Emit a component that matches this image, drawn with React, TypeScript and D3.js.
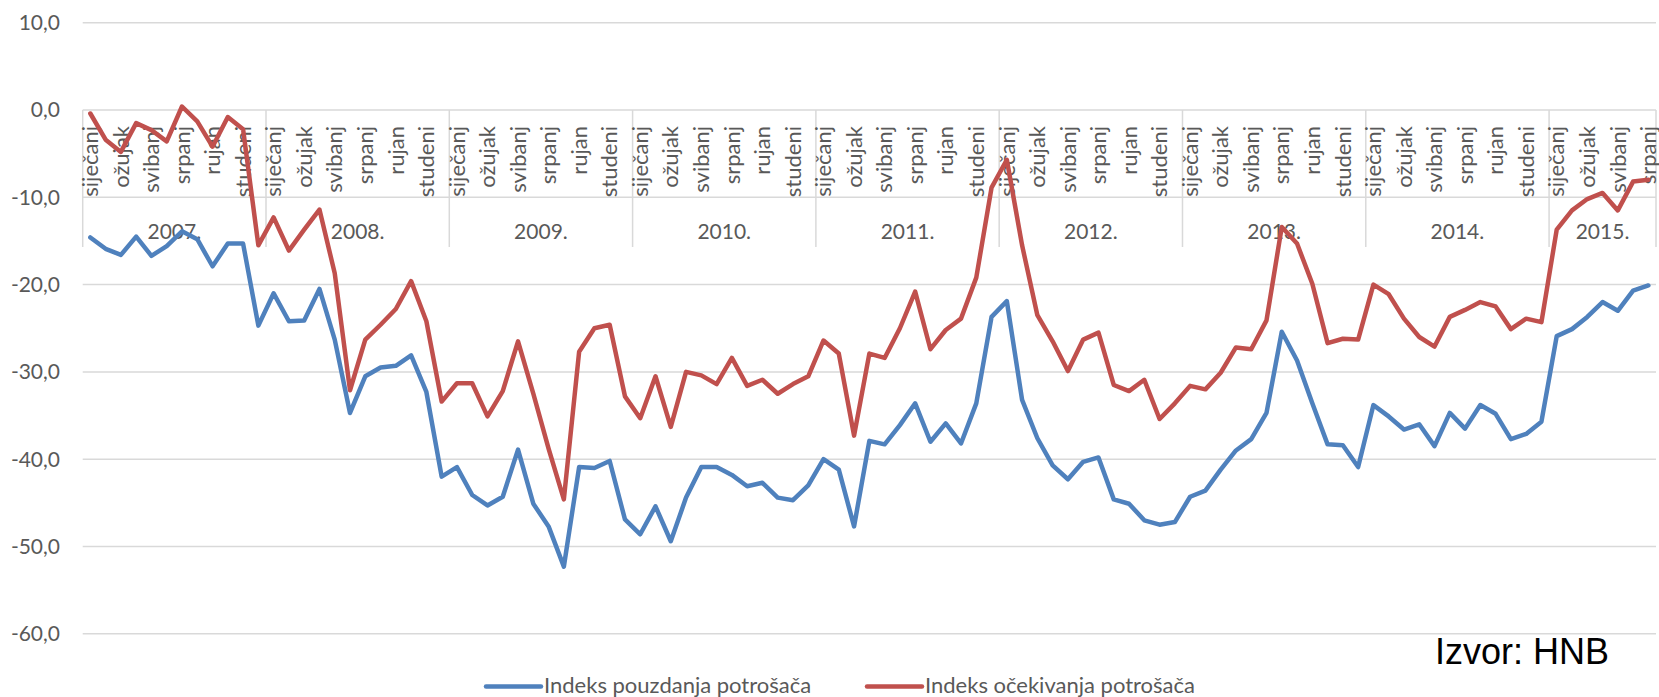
import React from "react";
import * as d3 from "d3";

// ---- data ----
const YEARS = ["2007.", "2008.", "2009.", "2010.", "2011.", "2012.", "2013.", "2014.", "2015."];
const MONTHS = [
  "siječanj", "veljača", "ožujak", "travanj", "svibanj", "lipanj",
  "srpanj", "kolovoz", "rujan", "listopad", "studeni", "prosinac",
];
const Y_TICKS = [10, 0, -10, -20, -30, -40, -50, -60];

const SERIES_NAMES = ["Indeks pouzdanja potrošača", "Indeks očekivanja potrošača"];

// Indeks pouzdanja potrošača (monthly, Jan 2007 – Jul 2015)
const CONFIDENCE = [
  -14.6, -15.9, -16.6, -14.5, -16.7, -15.6, -13.9, -14.8, -17.9, -15.3, -15.3, -24.7,
  -21.0, -24.2, -24.1, -20.5, -26.3, -34.7, -30.5, -29.5, -29.3, -28.1, -32.3, -42.0,
  -40.9, -44.1, -45.3, -44.3, -38.9, -45.1, -47.7, -52.3, -40.9, -41.0, -40.2, -46.9,
  -48.6, -45.4, -49.4, -44.4, -40.9, -40.9, -41.8, -43.1, -42.7, -44.4, -44.7, -43.0,
  -40.0, -41.2, -47.7, -37.9, -38.3, -36.1, -33.6, -38.0, -35.9, -38.2, -33.6, -23.7,
  -21.9, -33.2, -37.6, -40.7, -42.3, -40.3, -39.8, -44.6, -45.1, -47.0, -47.5, -47.2,
  -44.3, -43.6, -41.2, -39.0, -37.7, -34.7, -25.4, -28.7, -33.6, -38.3, -38.4, -40.9,
  -33.8, -35.1, -36.6, -36.0, -38.5, -34.7, -36.5, -33.8, -34.8, -37.7, -37.1, -35.7,
  -25.9, -25.1, -23.7, -22.0, -23.0, -20.7, -20.1,
];

// Indeks očekivanja potrošača
const EXPECTATIONS = [
  -0.4, -3.4, -4.8, -1.5, -2.3, -3.6, 0.4, -1.3, -4.2, -0.8, -2.2, -15.5,
  -12.3, -16.1, -13.7, -11.4, -18.7, -32.1, -26.3, -24.6, -22.8, -19.6, -24.2, -33.4,
  -31.3, -31.3, -35.1, -32.2, -26.5, -32.5, -38.8, -44.6, -27.7, -25.0, -24.6, -32.8,
  -35.3, -30.5, -36.3, -30.0, -30.4, -31.4, -28.4, -31.6, -30.9, -32.5, -31.4, -30.5,
  -26.4, -27.9, -37.3, -27.9, -28.4, -25.0, -20.8, -27.4, -25.2, -23.9, -19.2, -8.9,
  -5.7, -15.5, -23.5, -26.5, -29.9, -26.3, -25.5, -31.5, -32.2, -30.9, -35.4, -33.6,
  -31.6, -32.0, -30.1, -27.2, -27.4, -24.1, -13.4, -15.3, -19.9, -26.7, -26.2, -26.3,
  -20.0, -21.1, -23.9, -26.0, -27.1, -23.7, -22.9, -22.0, -22.5, -25.1, -23.9, -24.3,
  -13.7, -11.5, -10.2, -9.5, -11.5, -8.2, -8.0,
];

const COLORS = ["#4F81BD", "#C0504D"];
const SOURCE = "Izvor: HNB";

// ---- layout ----
const W = 1659;
const H = 697;
const PLOT_LEFT = 82.7;
const PLOT_RIGHT = 1656;
const TEXT = "#595959";
const GRID = "#D9D9D9";
const FONT = "Lato, 'Open Sans', sans-serif";

const fmt = d3
  .formatLocale({ decimal: ",", thousands: ".", grouping: [3], currency: ["", ""], minus: "-" })
  .format(".1f");

export default function App() {
  const n = CONFIDENCE.length;
  const idx = d3.range(n);
  const x = d3.scaleBand<number>().domain(idx).range([PLOT_LEFT, PLOT_RIGHT]).padding(0);
  const bw = x.bandwidth();
  const cx = (i: number) => (x(i) as number) + bw / 2;
  const y = d3.scaleLinear().domain([-60, 10]).range([633.8, 22.7]);

  const line = d3
    .line<number>()
    .x((_, i) => cx(i))
    .y((d) => y(d));

  const y0 = y(0);
  const sepBottom = 247;

  const yearStarts = YEARS.map((_, k) => k * 12).filter((s) => s < n);
  const sepXs = [...yearStarts.map((s) => x(s) as number), PLOT_RIGHT];

  return (
    <svg
      width={W}
      height={H}
      style={{ position: "absolute", left: 0, top: 0, background: "#fff" }}
      fontFamily={FONT}
    >
      <rect x={0} y={0} width={W} height={H} fill="#fff" />
      {/* gridlines */}
      {Y_TICKS.map((t) => (
        <line key={t} x1={PLOT_LEFT} x2={PLOT_RIGHT} y1={y(t)} y2={y(t)} stroke={GRID} strokeWidth={1.5} />
      ))}
      {/* y tick labels */}
      {Y_TICKS.map((t) => (
        <text
          key={"l" + t}
          x={60}
          y={y(t)}
          dy="0.35em"
          textAnchor="end"
          fontSize={21}
          fill={TEXT}
        >
          {fmt(t)}
        </text>
      ))}
      {/* category axis separators */}
      {sepXs.map((sx, k) => (
        <line key={"s" + k} x1={sx} x2={sx} y1={y0} y2={sepBottom} stroke={GRID} strokeWidth={1.5} />
      ))}
      {/* month labels */}
      {idx
        .filter((i) => i % 2 === 0)
        .map((i) => (
          <text
            key={"m" + i}
            transform={`translate(${cx(i)},126) rotate(-90)`}
            dy="0.35em"
            textAnchor="end"
            fontSize={22}
            fill={TEXT}
          >
            {MONTHS[i % 12]}
          </text>
        ))}
      {/* year labels */}
      {yearStarts.map((s, k) => {
        const a = x(s) as number;
        const b = k + 1 < yearStarts.length ? (x(yearStarts[k + 1]) as number) : PLOT_RIGHT;
        return (
          <text key={"y" + k} x={(a + b) / 2} y={239} textAnchor="middle" fontSize={21} fill={TEXT}>
            {YEARS[k]}
          </text>
        );
      })}
      {/* series */}
      {[CONFIDENCE, EXPECTATIONS].map((s, k) => (
        <path
          key={"p" + k}
          d={line(s) || ""}
          fill="none"
          stroke={COLORS[k]}
          strokeWidth={4.5}
          strokeLinejoin="round"
          strokeLinecap="round"
        />
      ))}
      {/* source */}
      <text x={1435} y={664} fontFamily="'Liberation Sans', Arial, sans-serif" fontSize={36} fill="#000">
        {SOURCE}
      </text>
      {/* legend */}
      {SERIES_NAMES.map((name, k) => {
        const lx = k === 0 ? 486 : 867;
        return (
          <g key={"lg" + k}>
            <line
              x1={lx}
              x2={lx + 55}
              y1={686.5}
              y2={686.5}
              stroke={COLORS[k]}
              strokeWidth={4.5}
              strokeLinecap="round"
            />
            <text x={lx + 58} y={693} fontSize={22} fill={TEXT}>
              {name}
            </text>
          </g>
        );
      })}
    </svg>
  );
}
